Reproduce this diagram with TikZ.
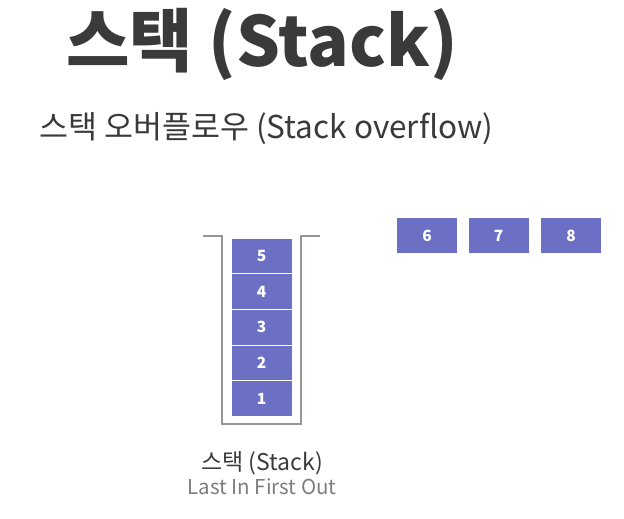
\documentclass[tikz,border=0pt]{standalone}
\usepackage{fontspec}
\usetikzlibrary{positioning}
\setmainfont{Noto Sans CJK KR}
\definecolor{stackblue}{RGB}{107,112,196}
\definecolor{inkdark}{RGB}{58,58,58}
\definecolor{inkgray}{RGB}{125,125,125}
\definecolor{wallgray}{RGB}{150,150,150}
\begin{document}
\begin{tikzpicture}[x=1pt, y=-1pt]
			\tikzstyle{item}  = [rectangle, minimum width=60pt, minimum height=34.6pt, inner sep=0pt, fill=stackblue, text=white, font=\bfseries\fontsize{15.5}{15.5}\selectfont]
			\tikzstyle{wall}  = [draw=wallgray, line width=2.6pt, line join=miter]

			\useasboundingbox (0,0) rectangle (624,519);

			% titles
			\node[anchor=west, inner sep=0pt, text=inkdark, font=\bfseries\fontsize{69}{69}\selectfont] (title) at (66,44) {스택 (Stack)};
			\node[anchor=west, inner sep=0pt, text=inkdark, font=\fontsize{31.5}{31.5}\selectfont] (subtitle) at (39,129) {스택 오버플로우 (Stack overflow)};

			% container
			\coordinate (wl) at (203,236);
			\coordinate (wr) at (320,236);
			\draw[wall] (wl) -- (222,236) -- (222,424) -- (301,424) -- (301,236) -- (wr);

			\foreach \text/\y in {1/398.5, 2/362.9, 3/327.3, 4/291.7, 5/256.1}
				\node[item] (s\text) at (261.5, \y) {\text};

			\foreach \text/\x in {6/427, 7/498.5, 8/571}
				\node[item, minimum height=35pt] (q\text) at (\x, 235.5) {\text};

			% caption
			\node[inner sep=0pt, text=inkdark, font=\fontsize{23}{23}\selectfont] (cap) at (262,463) {스택 (Stack)};
			\node[below=3pt of cap, inner sep=0pt, text=inkgray, font=\fontsize{20.5}{20.5}\selectfont] (lifo) {Last In First Out};

		\end{tikzpicture}
\end{document}
